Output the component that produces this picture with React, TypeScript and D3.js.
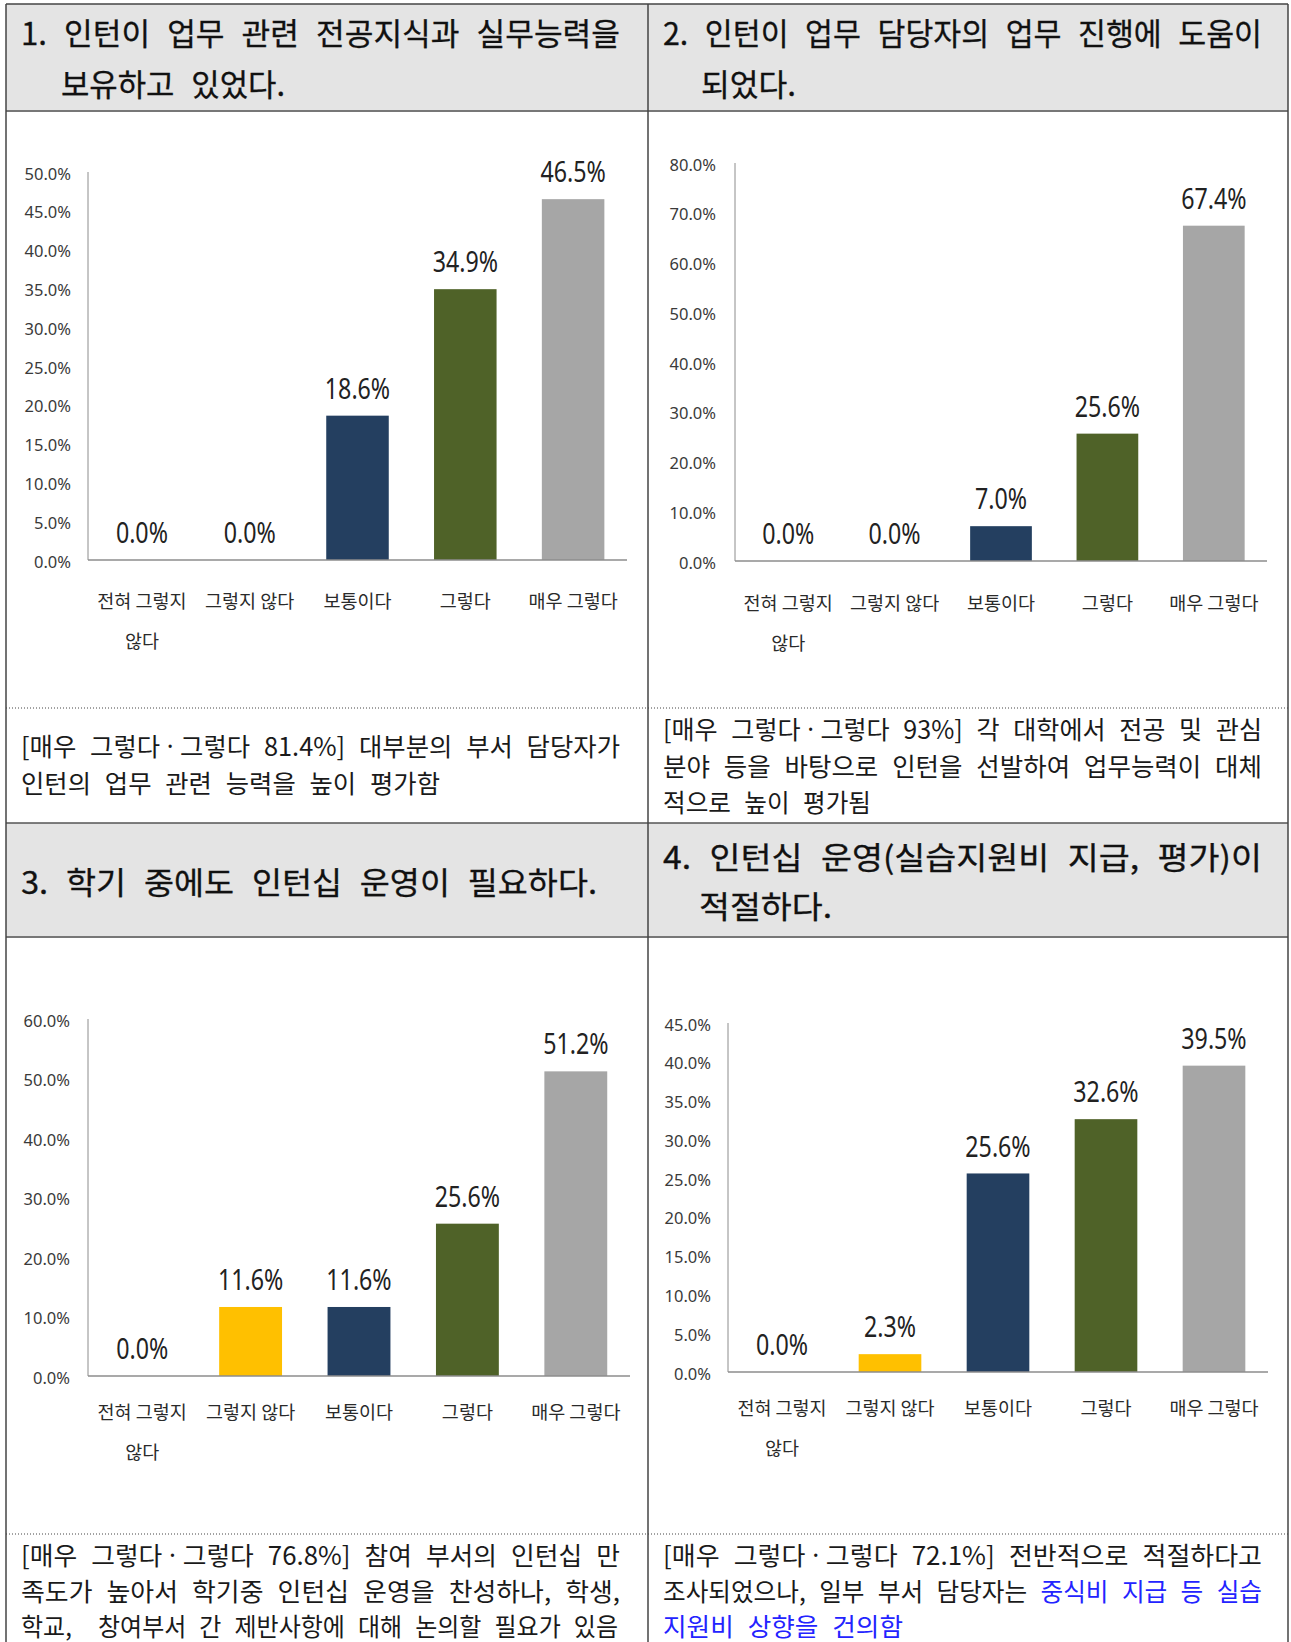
import React from "react";
import * as d3 from "d3";

// ---------- data ----------
const categories = ["전혀 그렇지 않다", "그렇지 않다", "보통이다", "그렇다", "매우 그렇다"];
const categoryLines = [["전혀 그렇지", "않다"], ["그렇지 않다"], ["보통이다"], ["그렇다"], ["매우 그렇다"]];
const barColors = ["#FFC000", "#FFC000", "#243F60", "#4F6228", "#A6A6A6"];

const q1Values = [0.0, 0.0, 18.6, 34.9, 46.5];
const q2Values = [0.0, 0.0, 7.0, 25.6, 67.4];
const q3Values = [0.0, 11.6, 11.6, 25.6, 51.2];
const q4Values = [0.0, 2.3, 25.6, 32.6, 39.5];

const q1Ticks = [0, 5, 10, 15, 20, 25, 30, 35, 40, 45, 50];
const q2Ticks = [0, 10, 20, 30, 40, 50, 60, 70, 80];
const q3Ticks = [0, 10, 20, 30, 40, 50, 60];
const q4Ticks = [0, 5, 10, 15, 20, 25, 30, 35, 40, 45];

const q1Title = ["1. 인턴이 업무 관련 전공지식과 실무능력을", "보유하고 있었다."];
const q2Title = ["2. 인턴이 업무 담당자의 업무 진행에 도움이", "되었다."];
const q3Title = ["3. 학기 중에도 인턴십 운영이 필요하다."];
const q4Title = ["4. 인턴십 운영(실습지원비 지급, 평가)이", "적절하다."];

const q1Note = ["[매우 그렇다 · 그렇다 81.4%] 대부분의 부서 담당자가", "인턴의 업무 관련 능력을 높이 평가함"];
const q2Note = [
  "[매우 그렇다 · 그렇다 93%] 각 대학에서 전공 및 관심",
  "분야 등을 바탕으로 인턴을 선발하여 업무능력이 대체",
  "적으로 높이 평가됨",
];
const q3Note = [
  "[매우 그렇다 · 그렇다 76.8%] 참여 부서의 인턴십 만",
  "족도가 높아서 학기중 인턴십 운영을 찬성하나, 학생,",
  "학교,  창여부서 간 제반사항에 대해 논의할 필요가 있음",
];
const q4Note = [
  "[매우 그렇다 · 그렇다 72.1%] 전반적으로 적절하다고",
  "조사되었으나, 일부 부서 담당자는 중식비 지급 등 실습",
  "지원비 상향을 건의함",
];
const q4Highlighted = ["중식비 지급 등 실습", "지원비 상향을 건의함"];

// ---------- layout ----------
const W = 1291;
const H = 1642;
const KR = "'Noto Sans CJK KR', 'Noto Sans', sans-serif";
const NUM = "'Noto Sans', 'DejaVu Sans', sans-serif";

type Geo = { left: number; right: number; top: number; base: number; tickRight: number; catY: number };

const panels: { values: number[]; ticks: number[]; g: Geo }[] = [
  { values: q1Values, ticks: q1Ticks, g: { left: 88, right: 627, top: 172, base: 560, tickRight: 71, catY: 600 } },
  { values: q2Values, ticks: q2Ticks, g: { left: 735, right: 1267, top: 163, base: 561, tickRight: 716, catY: 602 } },
  { values: q3Values, ticks: q3Ticks, g: { left: 88, right: 630, top: 1019, base: 1376, tickRight: 70, catY: 1411 } },
  { values: q4Values, ticks: q4Ticks, g: { left: 728, right: 1268, top: 1023, base: 1372, tickRight: 711, catY: 1407 } },
];

const titles = [
  { lines: q1Title, pos: [[21, 31, 599], [61, 82, 224]] },
  { lines: q2Title, pos: [[663, 31, 599], [701, 82, 95]] },
  { lines: q3Title, pos: [[21, 880, 576]] },
  { lines: q4Title, pos: [[663, 855, 599], [699, 904, 133]] },
];

const notes = [
  { lines: q1Note, pos: [[21, 745, 599], [21, 782, 419]] },
  { lines: q2Note, pos: [[663, 728, 599], [663, 765, 599], [663, 801, 208]] },
  { lines: q3Note, pos: [[21, 1554, 599], [21, 1590, 599], [21, 1625, 597]] },
  { lines: q4Note, pos: [[663, 1554, 599], [663, 1590, 599], [663, 1625, 240]] },
];

const fmt = (v: number) => d3.format(".1f")(v) + "%";

function BarPanel({ values, ticks, g }: { values: number[]; ticks: number[]; g: Geo }) {
  const x = d3.scaleBand<string>().domain(categories).range([g.left, g.right]).paddingInner(0.42).paddingOuter(0.21);
  const y = d3.scaleLinear().domain([0, ticks[ticks.length - 1]]).range([g.base, g.top]);
  return (
    <g>
      {ticks.map((t) => (
        <text
          key={"t" + t}
          x={g.tickRight}
          y={y(t) + 1}
          textAnchor="end"
          dominantBaseline="central"
          fontFamily={NUM}
          fontSize={16.5}
          fill="#3a3a3a"
        >
          {fmt(t)}
        </text>
      ))}
      {categories.map((c, i) => {
        const v = values[i];
        const x0 = x(c) as number;
        return (
          <rect key={"b" + c} x={x0} y={y(v)} width={x.bandwidth()} height={g.base - y(v)} fill={barColors[i]} />
        );
      })}
      <line x1={g.left} x2={g.left} y1={y(ticks[ticks.length - 1])} y2={g.base} stroke="#8c8c8c" strokeWidth={1} />
      <line x1={g.left} x2={g.right} y1={g.base} y2={g.base} stroke="#8c8c8c" strokeWidth={1.5} />
      {categories.map((c, i) => {
        const cx = (x(c) as number) + x.bandwidth() / 2;
        const v = values[i];
        return (
          <g key={"v" + c} transform={`translate(${cx},${y(v) - 28}) scale(0.8,1)`}>
            <text textAnchor="middle" dominantBaseline="central" fontFamily={NUM} fontSize={29} fill="#222">
              {fmt(v)}
            </text>
          </g>
        );
      })}
      {categories.map((c, i) => {
        const cx = (x(c) as number) + x.bandwidth() / 2;
        return categoryLines[i].map((ln, j) => (
          <text
            key={"c" + c + j}
            x={cx}
            y={g.catY + j * 40}
            textAnchor="middle"
            dominantBaseline="central"
            fontFamily={KR}
            fontSize={18.5}
            fill="#2a2a2a"
          >
            {ln}
          </text>
        ));
      })}
    </g>
  );
}

// render the middle dot narrow, with tight spaces around it
function withDot(s: string, key: string) {
  const parts = s.split(" · ");
  const out: any[] = [];
  parts.forEach((p, i) => {
    if (i > 0)
      out.push(
        <tspan key={key + "d" + i} fontFamily={NUM} style={{ wordSpacing: "0px" }}>
          {" · "}
        </tspan>
      );
    if (p) out.push(<tspan key={key + "p" + i}>{p}</tspan>);
  });
  return out;
}

function renderNoteLine(line: string) {
  for (const h of q4Highlighted) {
    const idx = line.indexOf(h);
    if (idx >= 0) {
      const before = line.slice(0, idx);
      const after = line.slice(idx + h.length);
      return [
        before ? <tspan key="a">{before}</tspan> : null,
        <tspan key="b" fill="#2323ff">{h}</tspan>,
        after ? <tspan key="c">{after}</tspan> : null,
      ];
    }
  }
  return withDot(line, "n");
}

export default function App() {
  const colX = [6, 648, 1288];
  return (
    <svg width={W} height={H} style={{ position: "absolute", left: 0, top: 0, background: "#fff" }}>
      <rect x={0} y={0} width={W} height={H} fill="#fff" />
      {/* header backgrounds */}
      <rect x={colX[0]} y={4} width={colX[2] - colX[0]} height={107} fill="#e4e4e4" />
      <rect x={colX[0]} y={823} width={colX[2] - colX[0]} height={114} fill="#e4e4e4" />
      {/* grid lines */}
      <line x1={colX[0]} x2={colX[2]} y1={4} y2={4} stroke="#444" strokeWidth={1.5} />
      <line x1={colX[0]} x2={colX[2]} y1={111} y2={111} stroke="#777" strokeWidth={2} />
      <line x1={colX[0]} x2={colX[2]} y1={823} y2={823} stroke="#555" strokeWidth={1.5} />
      <line x1={colX[0]} x2={colX[2]} y1={937} y2={937} stroke="#777" strokeWidth={2} />
      <line x1={colX[0]} x2={colX[2]} y1={708} y2={708} stroke="#444" strokeWidth={1} strokeDasharray="1,2" />
      <line x1={colX[0]} x2={colX[2]} y1={1534} y2={1534} stroke="#444" strokeWidth={1} strokeDasharray="1,2" />
      {colX.map((cx) => (
        <line key={"v" + cx} x1={cx} x2={cx} y1={4} y2={H} stroke="#444" strokeWidth={1.5} />
      ))}
      {/* titles */}
      {titles.map((t, ti) =>
        t.lines.map((ln, li) => {
          const [px, py, len] = t.pos[li];
          return (
            <text
              key={"h" + ti + li}
              x={px}
              y={py}
              dominantBaseline="central"
              fontFamily={KR}
              fontWeight={400}
              fontSize={31}
              fill="#111"
              stroke="#111"
              strokeWidth={0.3}
              textLength={len}
              lengthAdjust="spacingAndGlyphs"
              style={{ whiteSpace: "pre", wordSpacing: "10px" }}
            >
              {ln}
            </text>
          );
        })
      )}
      {/* notes */}
      {notes.map((n, ni) =>
        n.lines.map((ln, li) => {
          const [px, py, len] = n.pos[li];
          return (
            <text
              key={"n" + ni + li}
              x={px}
              y={py}
              dominantBaseline="central"
              fontFamily={KR}
              fontSize={25}
              fill="#1a1a1a"
              textLength={len}
              lengthAdjust="spacingAndGlyphs"
              style={{ whiteSpace: "pre", wordSpacing: "8px" }}
            >
              {renderNoteLine(ln)}
            </text>
          );
        })
      )}
      {panels.map((p, i) => (
        <BarPanel key={"p" + i} values={p.values} ticks={p.ticks} g={p.g} />
      ))}
    </svg>
  );
}
